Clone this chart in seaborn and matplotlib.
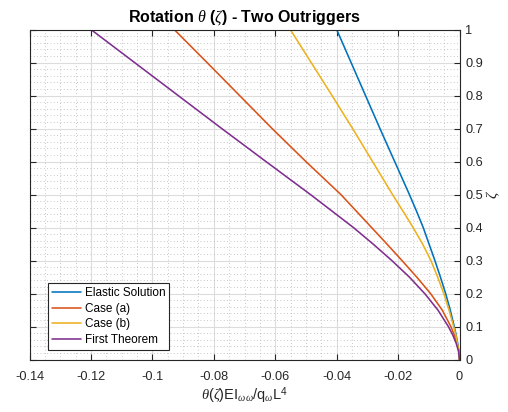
import numpy as np
import pandas as pd
import matplotlib
matplotlib.use("Agg")
import matplotlib.pyplot as plt
from matplotlib.ticker import FormatStrFormatter, AutoMinorLocator
import seaborn as sns

# Height coordinate along the building (zeta) and normalised rotation for each solution
zeta = [0.0, 0.025, 0.05, 0.075, 0.1, 0.15, 0.2, 0.25, 0.3, 0.35, 0.4, 0.45,
        0.5, 0.6, 0.7, 0.8, 0.9, 1.0]
elastic = [0.0, -0.0002, -0.0006, -0.0011, -0.0017, -0.0030, -0.0045, -0.0062,
           -0.0080, -0.0099, -0.0118, -0.0140, -0.0163, -0.0211, -0.0259,
           -0.0306, -0.0353, -0.0400]
case_a = [0.0, -0.0002, -0.0008, -0.0017, -0.0028, -0.0056, -0.0094, -0.0139,
          -0.0187, -0.0236, -0.0286, -0.0336, -0.0386, -0.0500, -0.0610,
          -0.0716, -0.0822, -0.0929]
case_b = [0.0, -0.0002, -0.0007, -0.0012, -0.0019, -0.0034, -0.0051, -0.0071,
          -0.0093, -0.0120, -0.0151, -0.0184, -0.0218, -0.0283, -0.0348,
          -0.0415, -0.0483, -0.0551]
first_theorem = [0.0, -0.0003, -0.0011, -0.0022, -0.0036, -0.0070, -0.0113,
                 -0.0163, -0.0220, -0.0281, -0.0345, -0.0415, -0.0485, -0.0630,
                 -0.0774, -0.0916, -0.1058, -0.1200]

series_names = ["Elastic Solution", "Case (a)", "Case (b)", "First Theorem"]
series_values = [elastic, case_a, case_b, first_theorem]
palette = ["#0072BD", "#D95319", "#EDB120", "#7E2F8E"]

x_ticks = [-0.14, -0.12, -0.1, -0.08, -0.06, -0.04, -0.02, 0]
y_ticks = [0, 0.1, 0.2, 0.3, 0.4, 0.5, 0.6, 0.7, 0.8, 0.9, 1]

df = pd.concat(
    [pd.DataFrame({"theta": v, "zeta": zeta, "series": n})
     for n, v in zip(series_names, series_values)],
    ignore_index=True,
)

sns.set_theme(style="white")
plt.rcParams["font.family"] = ["Liberation Sans", "DejaVu Sans"]
plt.rcParams["mathtext.fontset"] = "custom"
plt.rcParams["mathtext.rm"] = "Liberation Sans"
plt.rcParams["mathtext.it"] = "Liberation Serif:italic"
plt.rcParams["mathtext.bf"] = "Liberation Sans:bold"
plt.rcParams["axes.unicode_minus"] = False

dark = "#262626"
fig = plt.figure(figsize=(5.08, 4.12), dpi=100)
ax = fig.add_axes([29.5 / 508, 1 - 359.7 / 412, 430 / 508, 330.2 / 412])

sns.lineplot(data=df, x="theta", y="zeta", hue="series", hue_order=series_names,
             palette=palette, sort=False, estimator=None, linewidth=1.15, ax=ax)

ax.set_xlim(-0.14, 0)
ax.set_ylim(0, 1)
ax.set_xticks(x_ticks)
ax.set_yticks(y_ticks)
ax.xaxis.set_major_formatter(FormatStrFormatter("%g"))
ax.yaxis.set_major_formatter(FormatStrFormatter("%g"))
ax.xaxis.set_minor_locator(AutoMinorLocator(4))
ax.yaxis.set_minor_locator(AutoMinorLocator(5))

# axis on the right, ticks inward on all four sides
ax.yaxis.tick_right()
ax.yaxis.set_label_position("right")
ax.tick_params(axis="both", which="major", direction="in", length=4, width=0.8,
               color=dark, labelcolor=dark, labelsize=9.2,
               top=True, bottom=True, left=True, right=True)
ax.tick_params(axis="x", which="major", pad=8)
ax.tick_params(axis="y", which="major", pad=4)
ax.tick_params(which="minor", length=0)

ax.grid(True, which="major", color="#DCDCDC", linewidth=0.8, linestyle="-")
ax.grid(True, which="minor", color="#B4B4B4", linewidth=0.6, linestyle=(0, (1, 3)))
ax.set_axisbelow(True)
for s in ax.spines.values():
    s.set_visible(True)
    s.set_color(dark)
    s.set_linewidth(0.8)

ax.set_title(r"Rotation $\theta$ ($\zeta$) - Two Outriggers", fontsize=11.5,
             fontweight="bold", color="black", pad=6)
ax.set_xlabel(r"$\theta(\zeta)$EI$_{\omega\omega}$/q$_{\omega}$L$^4$",
              fontsize=10.5, color=dark, labelpad=2)
ax.set_ylabel(r"$\zeta$", fontsize=11, color=dark, labelpad=1)

leg = ax.legend(loc="lower left", bbox_to_anchor=(0.0419, 0.0294), borderaxespad=0,
                fontsize=8.5, frameon=True, fancybox=False, framealpha=1,
                edgecolor=dark, handlelength=2.5, handletextpad=0.3,
                labelspacing=0.3, borderpad=0.35, title=None)
leg.get_frame().set_linewidth(0.8)
for t in leg.get_texts():
    t.set_color("black")

fig.savefig("out.png", dpi=100)
